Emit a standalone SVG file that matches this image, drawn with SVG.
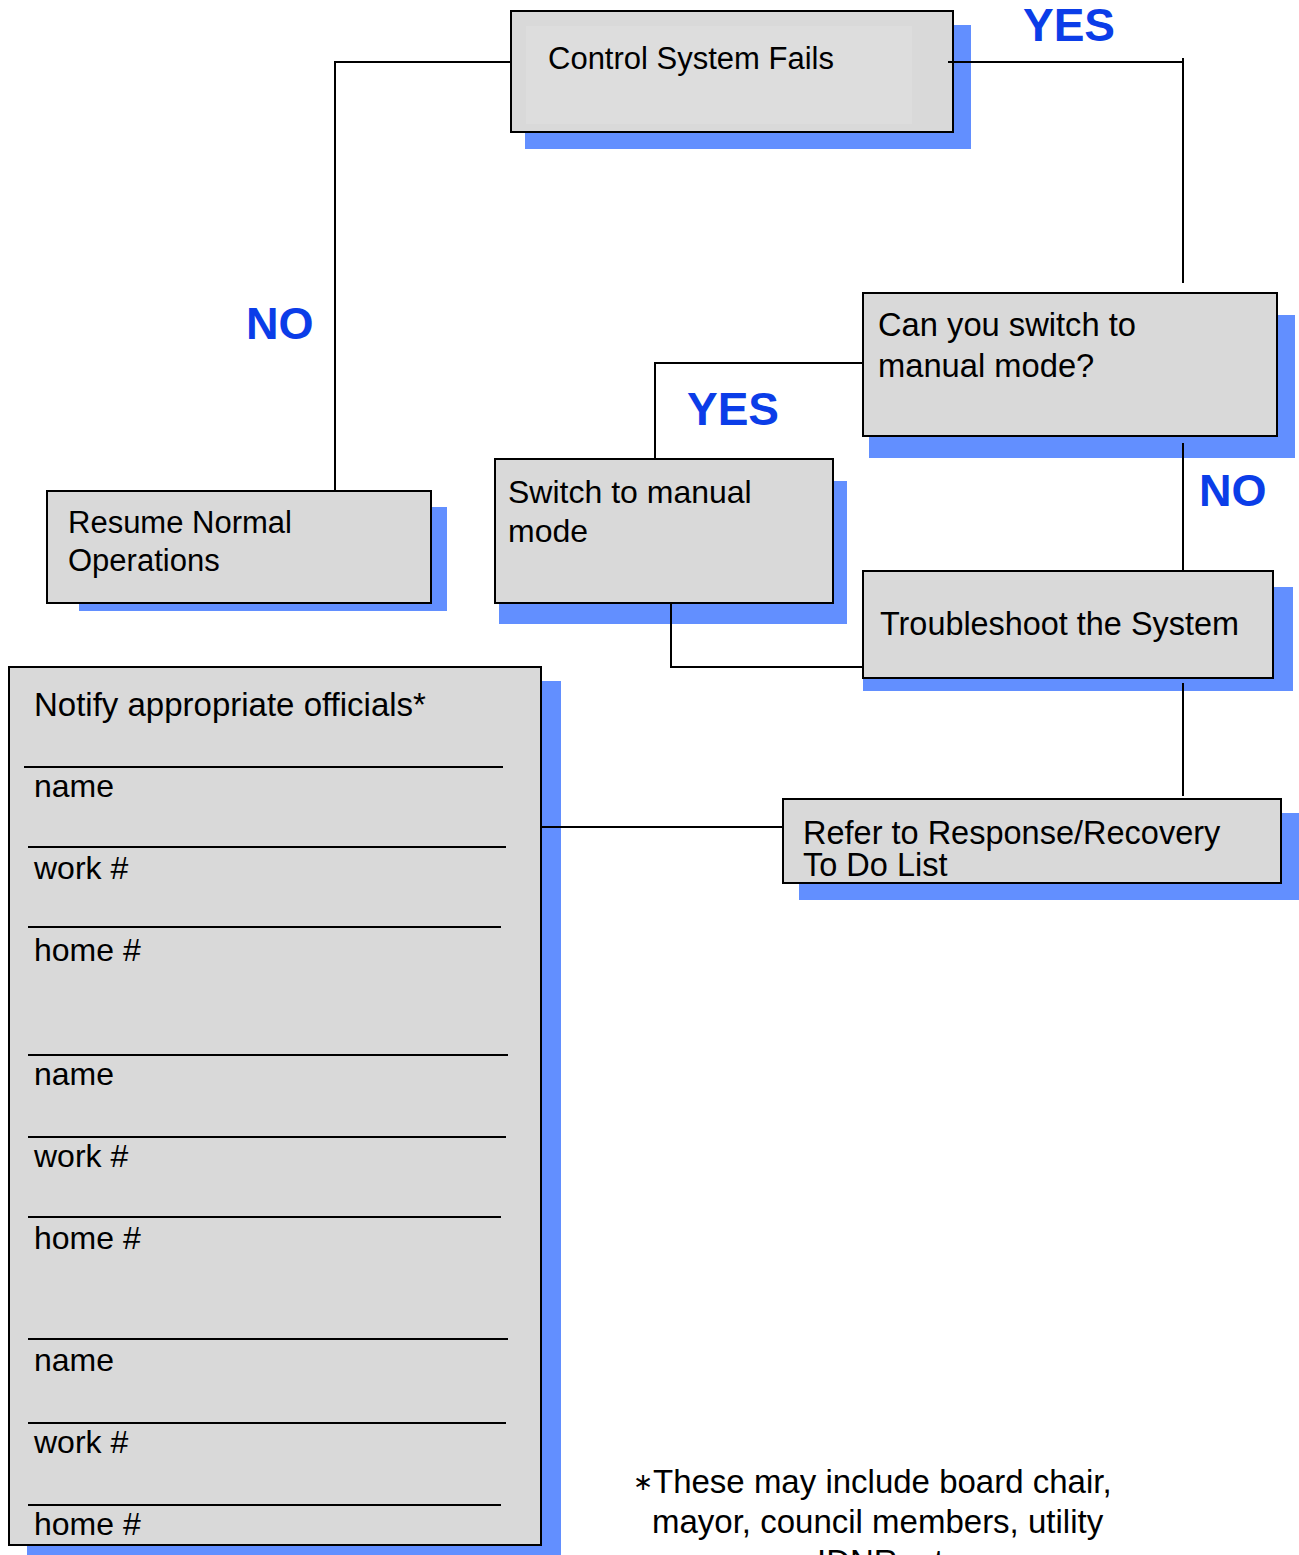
<svg xmlns="http://www.w3.org/2000/svg" width="1299" height="1555" viewBox="0 0 1299 1555">
<style>
.sh{fill:#628fff}
.bx{fill:#d9d9d9;stroke:#000;stroke-width:2}
.t{font-family:"Liberation Sans",Arial,sans-serif;fill:#000}
.lb{font-family:"Liberation Sans",Arial,sans-serif;font-weight:bold;fill:#0b3de8}
.cn{fill:none;stroke:#000;stroke-width:2}
.rl{stroke:#000;stroke-width:2}
</style>
<rect width="1299" height="1555" fill="#fff"/>
<g id="labels">
<text class="lb" x="1023" y="41" font-size="46">YES</text>
<text class="lb" x="246" y="339" font-size="45">NO</text>
<text class="lb" x="687" y="425" font-size="46">YES</text>
<text class="lb" x="1199" y="506" font-size="45">NO</text>
</g>
<g id="node-control">
<rect class="sh" x="525" y="25" width="446" height="124"/>
<rect class="bx" x="511" y="11" width="442" height="121"/>
<rect x="526" y="26" width="386" height="98" fill="#dddddd"/>
<text class="t" x="548" y="69" font-size="31">Control System Fails</text>
</g>
<g id="node-can-switch">
<rect class="sh" x="869" y="315" width="426" height="143"/>
<rect class="bx" x="863" y="293" width="414" height="143"/>
<text class="t" x="878" y="336" font-size="32.7">Can you switch to</text>
<text class="t" x="878" y="377" font-size="32.7">manual mode?</text>
</g>
<g id="node-switch">
<rect class="sh" x="499" y="481" width="348" height="143"/>
<rect class="bx" x="495" y="459" width="338" height="144"/>
<text class="t" x="508" y="503" font-size="32">Switch to manual</text>
<text class="t" x="508" y="542" font-size="32">mode</text>
</g>
<g id="node-resume">
<rect class="sh" x="79" y="507" width="368" height="104"/>
<rect class="bx" x="47" y="491" width="384" height="112"/>
<text class="t" x="68" y="533" font-size="31">Resume Normal</text>
<text class="t" x="68" y="571" font-size="31">Operations</text>
</g>
<g id="node-troubleshoot">
<rect class="sh" x="863" y="587" width="430" height="104"/>
<rect class="bx" x="863" y="571" width="410" height="107"/>
<text class="t" x="880" y="635" font-size="32.4">Troubleshoot the System</text>
</g>
<g id="node-refer">
<rect class="sh" x="799" y="813" width="500" height="87"/>
<rect class="bx" x="783" y="799" width="498" height="84"/>
<text class="t" x="803" y="844" font-size="32.5">Refer to Response/Recovery</text>
<text class="t" x="803" y="876" font-size="32.5">To Do List</text>
</g>
<g id="node-notify">
<rect class="sh" x="27" y="681" width="534" height="880"/>
<rect class="bx" x="9" y="667" width="532" height="878"/>
<text class="t" x="34" y="716" font-size="33">Notify appropriate officials*</text>
<line class="rl" x1="24" y1="767" x2="503" y2="767"/>
<text class="t" x="34" y="797" font-size="32">name</text>
<line class="rl" x1="28" y1="847" x2="506" y2="847"/>
<text class="t" x="34" y="879" font-size="32">work #</text>
<line class="rl" x1="28" y1="927" x2="501" y2="927"/>
<text class="t" x="34" y="961" font-size="32">home #</text>
<line class="rl" x1="28" y1="1055" x2="508" y2="1055"/>
<text class="t" x="34" y="1085" font-size="32">name</text>
<line class="rl" x1="28" y1="1137" x2="506" y2="1137"/>
<text class="t" x="34" y="1167" font-size="32">work #</text>
<line class="rl" x1="28" y1="1217" x2="501" y2="1217"/>
<text class="t" x="34" y="1249" font-size="32">home #</text>
<line class="rl" x1="28" y1="1339" x2="508" y2="1339"/>
<text class="t" x="34" y="1371" font-size="32">name</text>
<line class="rl" x1="28" y1="1423" x2="506" y2="1423"/>
<text class="t" x="34" y="1453" font-size="32">work #</text>
<line class="rl" x1="28" y1="1505" x2="501" y2="1505"/>
<text class="t" x="34" y="1535" font-size="32">home #</text>
</g>
<g id="connectors">
<polyline class="cn" points="511,62 335,62 335,491"/>
<polyline class="cn" points="948,62 1183,62 1183,283"/>
<line class="cn" x1="1183" y1="58" x2="1183" y2="62"/>
<polyline class="cn" points="863,363 655,363 655,459"/>
<line class="cn" x1="1183" y1="443" x2="1183" y2="571"/>
<polyline class="cn" points="671,603 671,667 863,667"/>
<line class="cn" x1="1183" y1="683" x2="1183" y2="796"/>
<line class="cn" x1="541" y1="827" x2="783" y2="827"/>
</g>
<g id="footnote">
<text class="t" x="633" y="1493" font-size="33"><tspan font-size="24" dy="-3">∗</tspan><tspan dy="3">These may include board chair,</tspan></text>
<text class="t" x="652" y="1533" font-size="33">mayor, council members, utility</text>
<text class="t" x="817" y="1573" font-size="33">IDNR, etc.</text>
</g>
</svg>
